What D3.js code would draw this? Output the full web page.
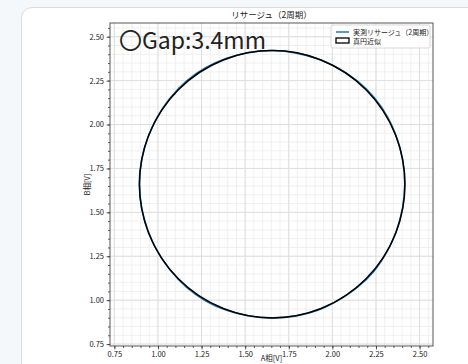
<!DOCTYPE html>
<html>
<head>
<meta charset="utf-8">
<script src="https://cdn.jsdelivr.net/npm/d3@7"></script>
<style>
  html, body { margin: 0; padding: 0; background: #f5f8fb; overflow: hidden; }
  #card {
    position: absolute; left: 21px; top: 7px; width: 470px; height: 380px;
    background: #fff; border: 1.5px solid #dcdcdc; border-radius: 11px;
  }
  svg { position: absolute; left: 0; top: 0; }
  text { font-family: "Noto Sans CJK JP", "Noto Sans", sans-serif; fill: #222; }
</style>
</head>
<body>
<div id="card"></div>
<script>
const measA = [2.415, 2.404, 2.371, 2.317, 2.241, 2.146, 2.036, 1.915, 1.787, 1.655,
  1.523, 1.394, 1.273, 1.163, 1.070, 0.995, 0.940, 0.905, 0.893, 0.906,
  0.941, 0.996, 1.071, 1.163, 1.272, 1.394, 1.523, 1.655, 1.788, 1.916,
  2.036, 2.146, 2.241, 2.315, 2.369, 2.403];
const measB = [1.660, 1.792, 1.921, 2.042, 2.152, 2.245, 2.319, 2.374, 2.408, 2.421,
  2.410, 2.377, 2.323, 2.247, 2.151, 2.041, 1.920, 1.792, 1.660, 1.528,
  1.400, 1.280, 1.170, 1.074, 0.997, 0.942, 0.910, 0.899, 0.909, 0.942,
  1.000, 1.075, 1.168, 1.279, 1.400, 1.528];

// fitted circle
const fitCenter = [1.655, 1.660];
const fitRadius = 0.761;

const majorTicks = [0.75, 1.00, 1.25, 1.50, 1.75, 2.00, 2.25, 2.50];
const minorTicks = d3.range(0, 37).map(i => +(0.75 + i * 0.05).toFixed(2));

const titleText = "リサージュ（2周期）";
const gapText = "〇Gap:3.4mm";
const legendLabels = ["実測リサージュ（2周期）", "真円近似"];
const xLabel = "A相[V]";
const yLabel = "B相[V]";

const W = 468, H = 364;
const pL = 110, pR = 433, pT = 23, pB = 346;

const x = d3.scaleLinear().domain([0.725, 2.577]).range([pL, pR]);
const y = d3.scaleLinear().domain([0.739, 2.578]).range([pB, pT]);

const svg = d3.select("body").append("svg").attr("width", W).attr("height", H);

svg.append("defs").append("clipPath").attr("id", "clip")
  .append("rect").attr("x", pL).attr("y", pT)
  .attr("width", pR - pL).attr("height", pB - pT);

const grid = svg.append("g").attr("clip-path", "url(#clip)");
const minX = minorTicks.filter(v => v <= x.domain()[1]);
const minY = minorTicks.filter(v => v <= y.domain()[1]);

grid.selectAll(".vmin").data(minX).enter().append("line")
  .attr("x1", d => x(d)).attr("x2", d => x(d)).attr("y1", pT).attr("y2", pB)
  .attr("stroke", "#ececec").attr("stroke-width", 0.8);
grid.selectAll(".hmin").data(minY).enter().append("line")
  .attr("y1", d => y(d)).attr("y2", d => y(d)).attr("x1", pL).attr("x2", pR)
  .attr("stroke", "#ececec").attr("stroke-width", 0.8);
grid.selectAll(".vmaj").data(majorTicks).enter().append("line")
  .attr("x1", d => x(d)).attr("x2", d => x(d)).attr("y1", pT).attr("y2", pB)
  .attr("stroke", "#dcdcdc").attr("stroke-width", 0.9);
grid.selectAll(".hmaj").data(majorTicks).enter().append("line")
  .attr("y1", d => y(d)).attr("y2", d => y(d)).attr("x1", pL).attr("x2", pR)
  .attr("stroke", "#dcdcdc").attr("stroke-width", 0.9);

// measured trace
const pts = measA.map((a, i) => [a, measB[i]]);
const line = d3.line().x(d => x(d[0])).y(d => y(d[1])).curve(d3.curveCatmullRomClosed);
grid.append("path").datum(pts).attr("d", line)
  .attr("fill", "none").attr("stroke", "#1f77b4").attr("stroke-width", 1.6);

// fitted circle
grid.append("ellipse")
  .attr("cx", x(fitCenter[0])).attr("cy", y(fitCenter[1]))
  .attr("rx", x(fitCenter[0] + fitRadius) - x(fitCenter[0]))
  .attr("ry", y(fitCenter[1]) - y(fitCenter[1] + fitRadius))
  .attr("fill", "none").attr("stroke", "#000").attr("stroke-width", 1.5);

// axes
const fmt = d3.format(".2f");
function styleAxis(g) {
  g.select(".domain").remove();
  g.selectAll(".tick line").attr("stroke", "#333").attr("stroke-width", 0.8);
  g.selectAll(".tick text").style("font-size", "7.5px").attr("fill", "#333");
}
svg.append("g").attr("transform", `translate(0,${pB})`)
  .call(d3.axisBottom(x).tickValues(minX).tickSize(2).tickFormat(""))
  .call(styleAxis);
svg.append("g").attr("transform", `translate(${pL},0)`)
  .call(d3.axisLeft(y).tickValues(minY).tickSize(2).tickFormat(""))
  .call(styleAxis);
svg.append("g").attr("transform", `translate(0,${pB})`)
  .call(d3.axisBottom(x).tickValues(majorTicks).tickSize(3.5).tickPadding(2.5).tickFormat(fmt))
  .call(styleAxis);
svg.append("g").attr("transform", `translate(${pL},0)`)
  .call(d3.axisLeft(y).tickValues(majorTicks).tickSize(3.5).tickPadding(2.5).tickFormat(fmt))
  .call(styleAxis);

svg.append("rect").attr("x", pL).attr("y", pT)
  .attr("width", pR - pL).attr("height", pB - pT)
  .attr("fill", "none").attr("stroke", "#444").attr("stroke-width", 0.9);

// texts
svg.append("text").attr("x", (pL + pR) / 2).attr("y", 18)
  .attr("text-anchor", "middle").style("font-size", "8.5px").text(titleText);
svg.append("text").attr("x", (pL + pR) / 2).attr("y", 361)
  .attr("text-anchor", "middle").style("font-size", "7.5px").text(xLabel);
svg.append("text").attr("transform", `translate(90,${(pT + pB) / 2}) rotate(-90)`)
  .attr("text-anchor", "middle").style("font-size", "7.5px").text(yLabel);
svg.append("text").attr("x", 119).attr("y", 49)
  .style("font-size", "23px").attr("fill", "#111").text(gapText);

// legend
const lg = svg.append("g").attr("transform", "translate(331,25)");
lg.append("rect").attr("width", 99).attr("height", 23).attr("rx", 2)
  .attr("fill", "#fff").attr("fill-opacity", 0.85).attr("stroke", "#cfcfcf").attr("stroke-width", 0.8);
lg.append("line").attr("x1", 5).attr("x2", 18).attr("y1", 7).attr("y2", 7)
  .attr("stroke", "#1f77b4").attr("stroke-width", 1.5);
lg.append("rect").attr("x", 5).attr("y", 13).attr("width", 13).attr("height", 5)
  .attr("fill", "#fff").attr("stroke", "#000").attr("stroke-width", 1.3);
lg.selectAll(".lt").data(legendLabels).enter().append("text")
  .attr("x", 22).attr("y", (d, i) => 9.5 + i * 9)
  .style("font-size", "7px").text(d => d);
</script>
</body>
</html>
